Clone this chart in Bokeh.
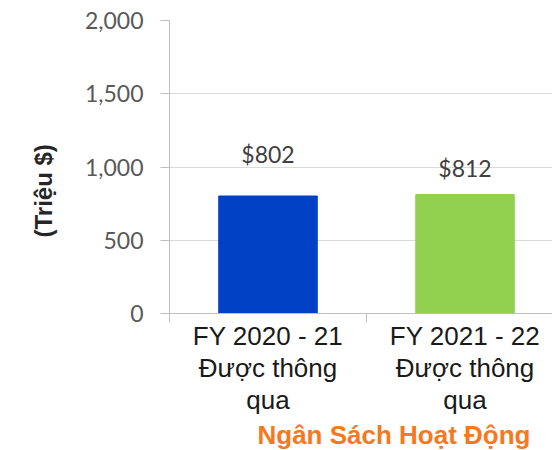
from bokeh.plotting import figure
from bokeh.models import Range1d, FixedTicker, NumeralTickFormatter, ColumnDataSource, Title
from bokeh.core.properties import value
from bokeh.embed import file_html
from bokeh.resources import INLINE

# ---- data ----
categories = ["FY 2020 - 21\nĐược thông\nqua", "FY 2021 - 22\nĐược thông\nqua"]
budgets = [802, 812]
bar_colors = ["#0041C6", "#92D050"]
y_ticks = [0, 500, 1000, 1500, 2000]
y_title = "(Triệu $)"
x_title = "Ngân Sách Hoạt Động"

x_pos = [i + 0.5 for i in range(len(categories))]
boundaries = [float(i) for i in range(len(categories) + 1)]
labels = ["$" + str(v) for v in budgets]
label_offsets = [-42, -27]

src = ColumnDataSource(dict(x=x_pos, top=budgets, color=bar_colors,
                            label=labels, yoff=label_offsets))

p = figure(frame_width=383, frame_height=293,
           x_range=Range1d(0, 1.944), y_range=Range1d(0, 2000),
           output_backend="svg", toolbar_location=None,
           min_border_left=169, min_border_right=0, min_border_top=20, min_border_bottom=0)
p.outline_line_color = None
p.background_fill_color = "white"
p.title.visible = False

p.vbar(x="x", top="top", width=0.5, fill_color="color", line_color="color", source=src)
p.text(x="x", y="top", text="label", y_offset="yoff", text_align="center",
       text_baseline="alphabetic", text_font=value("Lato"), text_font_size="23px",
       text_color="#404040", source=src)

grey = "#bfbfbf"
# y axis
ya = p.yaxis[0]
ya.ticker = FixedTicker(ticks=y_ticks)
ya.formatter = NumeralTickFormatter(format="0,0")
ya.major_label_text_font = "Lato"
ya.major_label_text_font_size = "23px"
ya.major_label_text_color = "#595959"
ya.major_tick_out = 9
ya.major_tick_in = 0
ya.minor_tick_line_color = None
ya.axis_line_color = grey
ya.major_tick_line_color = grey
ya.major_label_standoff = 17

yt = Title(text=y_title, align="left", offset=76, standoff=50,
           text_font="Liberation Sans",
           text_font_size="24px", text_font_style="bold", text_color="#262626")
p.add_layout(yt, "left")

# x axis
xa = p.xaxis[0]
xa.ticker = FixedTicker(ticks=x_pos, minor_ticks=boundaries)
xa.major_label_overrides = {x: c for x, c in zip(x_pos, categories)}
xa.major_label_text_font = "Liberation Sans"
xa.major_label_text_font_size = "26px"
xa.major_label_text_color = "#1a1a1a"
xa.major_label_text_line_height = 1.07
xa.major_tick_line_color = None
xa.major_tick_out = 0
xa.major_tick_in = 0
xa.minor_tick_out = 9
xa.minor_tick_in = 0
xa.minor_tick_line_color = grey
xa.axis_line_color = grey
xa.major_label_standoff = -2

p.xgrid.grid_line_color = None
p.ygrid.grid_line_color = "#d9d9d9"

t = Title(text=x_title, align="right", offset=22, standoff=0, text_font="Liberation Sans",
          text_font_size="26px", text_font_style="bold", text_color="#F47920")
p.add_layout(t, "below")

open("out.html", "w").write(file_html(p, INLINE))
